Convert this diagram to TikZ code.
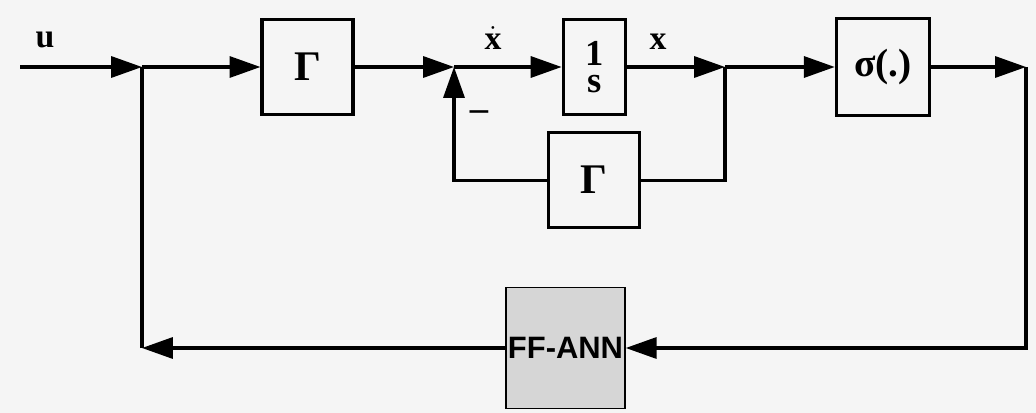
\documentclass[tikz,border=0pt]{standalone}
\usepackage{fontspec}
\setmainfont{Liberation Serif}
\newfontfamily\annfont{Liberation Sans}
\usetikzlibrary{arrows.meta,positioning}

\begin{document}
\begin{tikzpicture}[
  x=0.025cm, y=-0.025cm,
  >={Triangle[length=22pt,width=15pt]},
  blk/.style={rectangle, draw=black, line width=2.2pt, inner sep=0pt,
    align=center, minimum width=2.275cm, minimum height=2.375cm,
    font=\fontsize{26}{19}\selectfont\bfseries},
  annblk/.style={rectangle, draw=black, line width=1pt, fill=black!16,
    inner sep=0pt, minimum width=2.975cm, minimum height=3.025cm,
    font=\annfont\bfseries\fontsize{22}{22}\selectfont},
  lbl/.style={font=\fontsize{24}{24}\selectfont\bfseries},
  flow/.style={->, line width=2.2pt},
  wire/.style={line width=2.2pt}
]
  \fill[black!4] (0,0) rectangle (1036,413);
  \node[blk, font=\fontsize{30}{30}\selectfont\bfseries] (gam) at (307.5,67) {Γ};
  \node[blk, minimum width=1.55cm, right=5.175cm of gam] (integ) {1\\s};
  \node[blk, font=\fontsize{28}{28}\selectfont\bfseries, minimum width=2.325cm,
    minimum height=2.425cm, right=5.2cm of integ] (sigma) {σ(.)};
  \node[blk, font=\fontsize{30}{30}\selectfont\bfseries, below=0.375cm of integ] (fb) {Γ};
  \node[annblk] (ann) at (565.5,348) {FF-ANN};
  \coordinate (in) at (20,67);
  \coordinate (j1) at (142,67);
  \coordinate (sum) at (454,67);
  \coordinate (j2) at (725,67);
  \coordinate (out) at (1026,67);
  \coordinate (bl) at (142,348);
  \node[lbl] (ulab) at (45,40) {u};
  \node[lbl] (xdot) at (493,38) {$\dot{\textbf{x}}$};
  \node[lbl] (xlab) at (658,42) {x};
  \node[lbl, font=\fontsize{26}{26}\selectfont\bfseries] (minus) at (479,116) {–};
  \draw[flow] (in) -- (j1);
  \draw[flow] (j1) -- (gam);
  \draw[flow] (gam) -- (sum);
  \draw[flow] (sum) -- (integ);
  \draw[flow] (integ) -- (j2);
  \draw[flow] (j2) -- (sigma);
  \draw[flow] (sigma) -- (out);
  \draw[flow] (out) |- (ann);
  \draw[flow] (ann) -- (bl);
  \draw[wire] (bl) -- (j1);
  \draw[wire] (j2) |- (fb);
  \draw[flow] (fb) -| (sum);
  \useasboundingbox (0,0) rectangle (1036,413);
\end{tikzpicture}
\end{document}
